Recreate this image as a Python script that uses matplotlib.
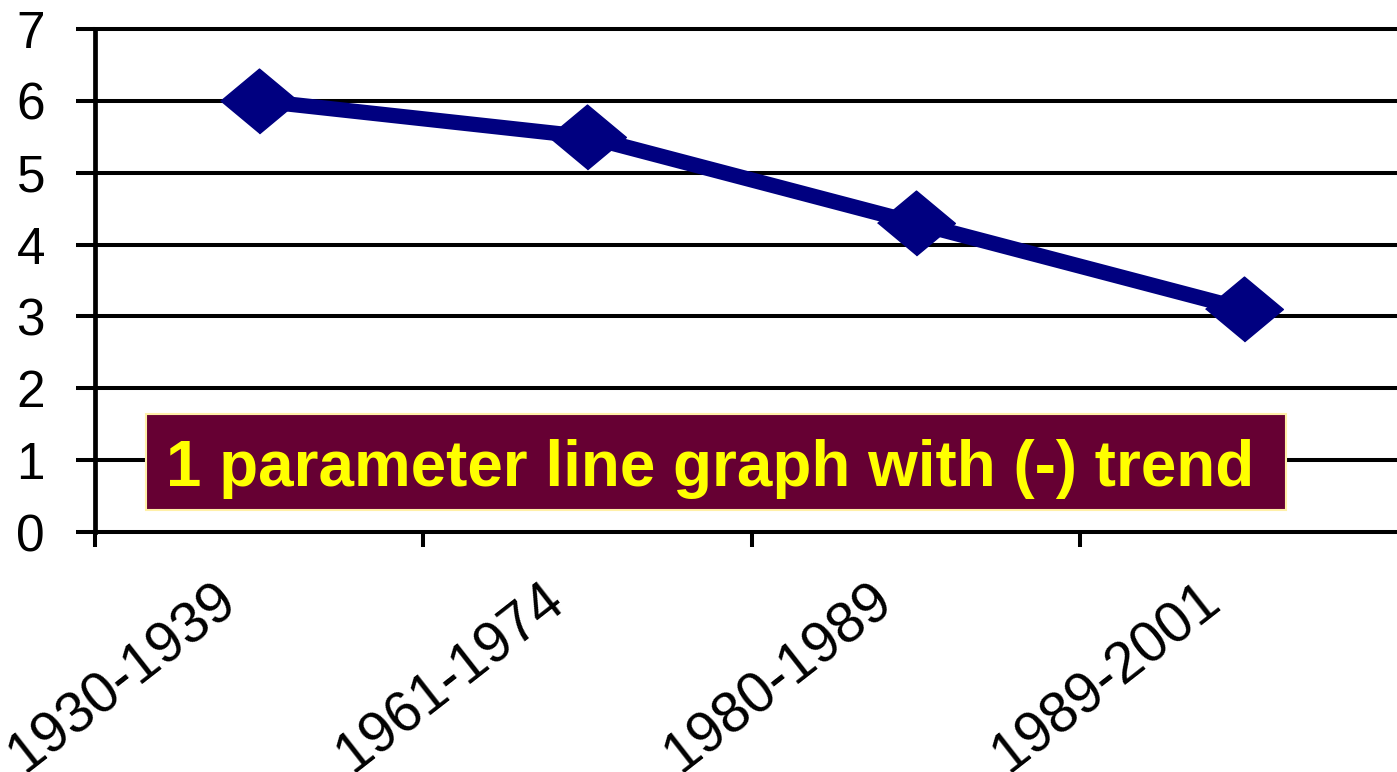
import numpy as np
import matplotlib
matplotlib.use('Agg')
import matplotlib.pyplot as plt
from matplotlib.patches import Rectangle
from matplotlib.transforms import ScaledTranslation

# chart data
periods = ['1930-1939', '1961-1974', '1980-1989', '1989-2001']
values = [6.0, 5.5, 4.3, 3.1]
y_ticks = [0, 1, 2, 3, 4, 5, 6, 7]
banner_text = '1 parameter line graph with (-) trend'

plt.rcParams['font.family'] = ['Liberation Sans', 'DejaVu Sans']

W, H = 1397, 772
fig = plt.figure(figsize=(W / 100, H / 100), dpi=100)

# axes run past the right edge of the picture, like the original slide
left, right = 95, 1408
top, bottom = 29, 532
ax = fig.add_axes([left / W, 1 - bottom / H, (right - left) / W, (bottom - top) / H])

x = np.arange(len(periods))

# horizontal gridlines
for v in y_ticks:
    ax.axhline(v, color='black', lw=2.9, zorder=1, clip_on=False)

# diamond marker, a bit wider than tall
diamond = [(-1.2, 0), (0, 1), (1.2, 0), (0, -1)]
ax.plot(x, values, color='#000080', lw=11, marker=diamond, markersize=56,
        solid_joinstyle='miter', zorder=3, clip_on=False)

ax.set_xlim(-0.5, len(periods) - 0.5)
ax.set_ylim(0, 7)

for s in ['top', 'right', 'bottom']:
    ax.spines[s].set_visible(False)
ax.spines['left'].set_linewidth(3.4)
ax.spines['left'].set_zorder(4)

# y ticks
ax.set_yticks(y_ticks)
ax.tick_params(axis='y', length=14, width=2.9, pad=22, labelsize=37, direction='out')

# x ticks: labels at centres, marks at category borders
ax.set_xticks(x)
ax.set_xticklabels(periods)
ax.tick_params(axis='x', which='major', length=0, pad=29, labelsize=41)
ax.set_xticks(np.arange(-0.5, len(periods), 1.0), minor=True)
ax.tick_params(axis='x', which='minor', length=11, width=2.9, direction='out')

shift = ScaledTranslation(-0.46, 0, fig.dpi_scale_trans)
for lab in ax.get_xticklabels():
    lab.set_rotation(38)
    lab.set_ha('right')
    lab.set_va('top')
    lab.set_rotation_mode('anchor')
    lab.set_transform(lab.get_transform() + shift)

# banner box
bx0, bx1, by0, by1 = 146, 1286, 414, 510
fig.patches.append(Rectangle((bx0 / W, 1 - by1 / H), (bx1 - bx0) / W, (by1 - by0) / H,
                             transform=fig.transFigure, facecolor='#660033',
                             edgecolor='#FFF0A8', lw=1.5, zorder=5))
fig.text(710 / W, 1 - 486 / H, banner_text, color='#FFFF00',
         fontsize=45.9, fontweight='bold', ha='center', va='baseline', zorder=6)

plt.savefig('out.png', dpi=100)
